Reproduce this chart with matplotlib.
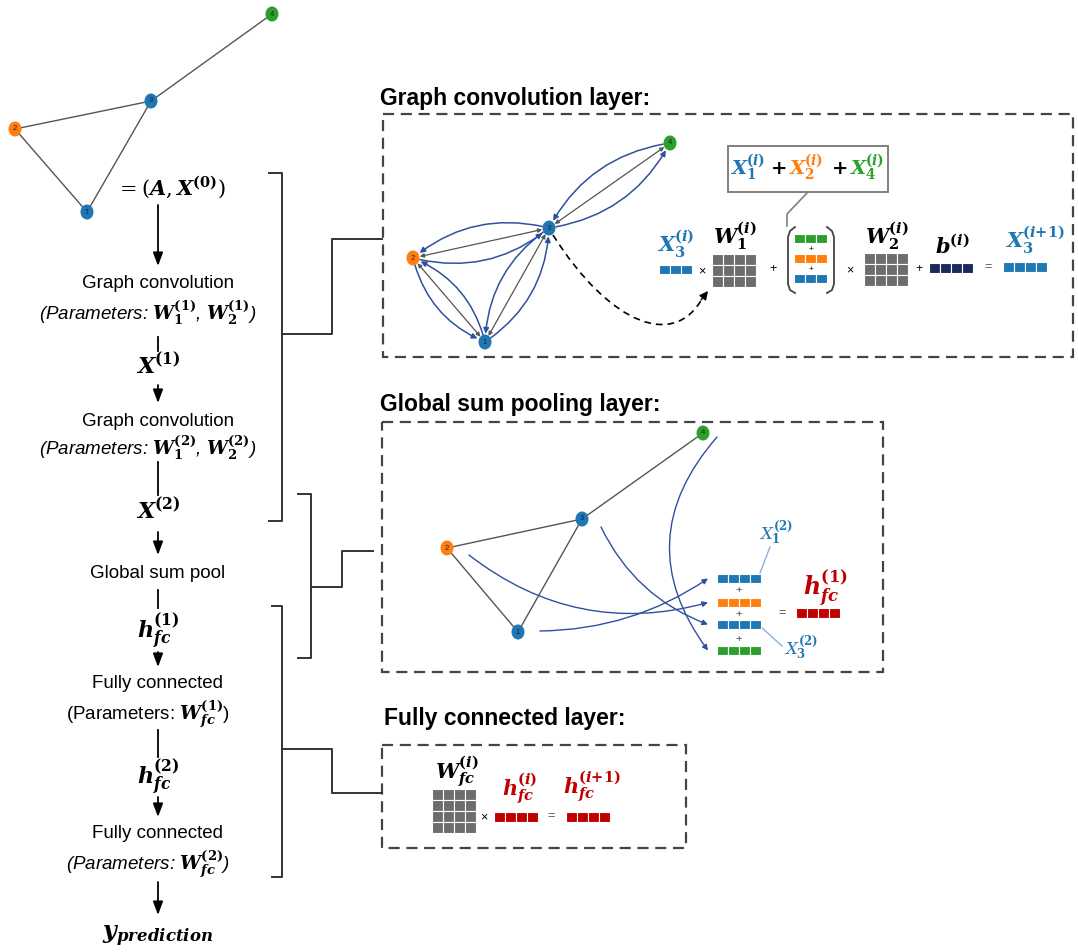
import matplotlib.pyplot as plt
from matplotlib.patches import Ellipse, Rectangle, FancyArrowPatch, PathPatch
from matplotlib.path import Path

plt.rcParams['font.family'] = ['Liberation Sans', 'DejaVu Sans']

# graph data
node_ids = ['1', '2', '3', '4']
node_colors = ['#1f77b4', '#ff7f0e', '#1f77b4', '#2ca02c']
edges = [(0, 1), (0, 2), (1, 2), (2, 3)]

# node layouts (pixel coords) for the three drawings of the graph
pos_input = [(87, 212), (15, 129), (151, 101), (272, 14)]
pos_conv = [(485, 342), (413, 258), (549, 228), (670, 143)]
pos_pool = [(518, 632), (447, 548), (582, 519), (703, 433)]

# left flow column
flow_x = 158
flow_text = [
    ('Graph convolution', 283, 'normal', 'text'),
    (r'(Parameters: $\mathbfit{W}_{\mathbf{1}}^{\mathbf{(1)}}$, $\mathbfit{W}_{\mathbf{2}}^{\mathbf{(1)}}$)', 313, 'italic', 'text'),
    (r'$\mathbfit{X}^{\mathbf{(1)}}$', 366, 'normal', 'math'),
    ('Graph convolution', 421, 'normal', 'text'),
    (r'(Parameters: $\mathbfit{W}_{\mathbf{1}}^{\mathbf{(2)}}$, $\mathbfit{W}_{\mathbf{2}}^{\mathbf{(2)}}$)', 448, 'italic', 'text'),
    (r'$\mathbfit{X}^{\mathbf{(2)}}$', 511, 'normal', 'math'),
    ('Global sum pool', 573, 'normal', 'text'),
    (r'$\mathbfit{h}_{\mathbfit{fc}}^{\mathbf{(1)}}$', 631, 'normal', 'math'),
    ('Fully connected', 683, 'normal', 'text'),
    (r'(Parameters: $\mathbfit{W}_{\mathbfit{fc}}^{\mathbf{(1)}}$)', 714, 'normal', 'text'),
    (r'$\mathbfit{h}_{\mathbfit{fc}}^{\mathbf{(2)}}$', 777, 'normal', 'math'),
    ('Fully connected', 833, 'normal', 'text'),
    (r'(Parameters: $\mathbfit{W}_{\mathbfit{fc}}^{\mathbf{(2)}}$)', 864, 'italic', 'text'),
]
flow_links = [(205, 266, True), (337, 351, False), (385, 403, True), (462, 495, False),
              (532, 555, True), (590, 608, False), (652, 667, True), (730, 757, False),
              (797, 817, True), (882, 915, True)]

# brackets: (x, top, bottom, tick_x, mid_y, elbow_x, target_y, target_x)
brackets = [(282, 173, 521, 269, 334, 332, 239, 382),
            (311, 494, 658, 298, 587, 342, 551, 373),
            (282, 606, 877, 272, 749, 332, 793, 382)]

# dashed layer boxes: (x0, y0, x1, y1) and titles
boxes = [(383, 114, 1073, 357), (382, 422, 883, 672), (382, 745, 686, 848)]
titles = ['Graph convolution layer:', 'Global sum pooling layer:', 'Fully connected layer:']
title_pos = [(380, 98), (380, 405), (384, 719)]

BLUE = '#1f77b4'
ORANGE = '#ff7f0e'
GREEN = '#2ca02c'
RED = '#c00000'
NAVY = '#1b2a5c'
GRAY = '#6d6d6d'
ARC = '#2f4f9f'

fig = plt.figure(figsize=(10.78, 9.52), dpi=100)
ax = fig.add_axes([0, 0, 1, 1])
ax.set_xlim(0, 1078)
ax.set_ylim(952, 0)
ax.axis('off')


def draw_nodes(pos):
    for (x, y), lab, c in zip(pos, node_ids, node_colors):
        ax.add_patch(Ellipse((x, y), 13, 15, fc=c, ec='none', zorder=5))
        ax.text(x, y, lab, fontsize=5.5, ha='center', va='center', zorder=6, color='#222222')


def draw_edges(pos, color='#555555'):
    for a, b in edges:
        ax.plot([pos[a][0], pos[b][0]], [pos[a][1], pos[b][1]], color=color, lw=1.0, zorder=2)


def cells(x0, y0, ncol, nrow, color, w=11, h=11):
    for i in range(ncol):
        for j in range(nrow):
            ax.add_patch(Rectangle((x0 + i * w, y0 + j * h), w, h, fc=color, ec='white', lw=0.8, zorder=3))


def mtext(x, y, s, size=15, color='black', **kw):
    ax.text(x, y, s, fontsize=size, color=color, ha='center', va='center',
            math_fontfamily='dejavuserif', **kw)


# ---- input graph
draw_edges(pos_input)
draw_nodes(pos_input)
mtext(171, 187, r'$=(\mathbfit{A},\mathbfit{X}^{\mathbf{(0)}})$', size=15)

# ---- flow column
for s, y, style, kind in flow_text:
    if kind == 'math':
        mtext(flow_x, y, s, size=16)
    else:
        ax.text(flow_x - (10 if 'Param' in s else 0), y, s, fontsize=13.5, fontstyle=style,
                ha='center', va='center', math_fontfamily='dejavuserif')
for y0, y1, head in flow_links:
    if head:
        ax.annotate('', xy=(flow_x, y1), xytext=(flow_x, y0),
                    arrowprops=dict(arrowstyle='-|>,head_length=0.8,head_width=0.3',
                                    color='black', lw=1.3, shrinkA=0, shrinkB=0))
    else:
        ax.plot([flow_x, flow_x], [y0, y1], color='black', lw=1.3)
mtext(flow_x, 936, r'$\mathbfit{y}_{\mathbfit{prediction}}$', size=17)

# ---- brackets
for x, top, bot, tx, my, ex, ty, tgx in brackets:
    ax.plot([tx, x, x, tx], [top, top, bot, bot], color='#333333', lw=1.4)
    ax.plot([x, ex, ex, tgx], [my, my, ty, ty], color='#333333', lw=1.4)

# ---- boxes and titles
for (x0, y0, x1, y1), t, (tx, ty) in zip(boxes, titles, title_pos):
    ax.add_patch(Rectangle((x0, y0), x1 - x0, y1 - y0, fill=False, ec='#444444',
                           lw=1.6, ls=(0, (5, 3)), zorder=1))
    ax.text(tx, ty, t, fontsize=16.5, fontweight='bold', ha='left', va='center')

# ---- graph convolution layer
for a, b in edges:
    ax.add_patch(FancyArrowPatch(pos_conv[a], pos_conv[b], arrowstyle='<|-|>',
                                 mutation_scale=6, color='#555555', lw=0.9,
                                 shrinkA=5, shrinkB=5, zorder=2))
    for u, v in ((a, b), (b, a)):
        ax.add_patch(FancyArrowPatch(pos_conv[u], pos_conv[v], arrowstyle='-|>',
                                     connectionstyle='arc3,rad=0.25', mutation_scale=8,
                                     color=ARC, lw=1.1, shrinkA=5, shrinkB=6, zorder=3))
draw_nodes(pos_conv)

# dashed link from node 3 to the update formula
p0 = (553, 235)
verts = [p0, (610, 325), (675, 350), (703, 297)]
ax.add_patch(PathPatch(Path(verts, [Path.MOVETO, Path.CURVE4, Path.CURVE4, Path.CURVE4]),
                       fill=False, ec='black', lw=1.2, ls=(0, (4, 3))))
ax.annotate('', xy=(708, 291), xytext=(701, 300),
            arrowprops=dict(arrowstyle='-|>,head_length=0.5,head_width=0.25', color='black',
                            lw=1.0, shrinkA=0, shrinkB=0))

# neighbour sum box
ax.add_patch(Rectangle((728, 146), 160, 46, fill=False, ec='#808080', lw=1.4))
mtext(748, 168, r'$\mathbfit{X}_{\mathbf{1}}^{\mathbf{(}\mathbfit{i}\mathbf{)}}$', size=14, color=BLUE)
mtext(778, 170, r'$\mathbf{+}$', size=14)
mtext(806, 168, r'$\mathbfit{X}_{\mathbf{2}}^{\mathbf{(}\mathbfit{i}\mathbf{)}}$', size=14, color=ORANGE)
mtext(839, 170, r'$\mathbf{+}$', size=14)
mtext(867, 168, r'$\mathbfit{X}_{\mathbf{4}}^{\mathbf{(}\mathbfit{i}\mathbf{)}}$', size=14, color=GREEN)
ax.plot([808, 787, 787], [192, 214, 226], color='#808080', lw=1.2)

# update formula
mtext(676, 244, r'$\mathbfit{X}_{\mathbf{3}}^{\mathbf{(}\mathbfit{i}\mathbf{)}}$', color=BLUE)
cells(659, 265, 3, 1, BLUE, h=9)
ax.text(702, 271, '×', fontsize=9, ha='center', va='center')
mtext(735, 236, r'$\mathbfit{W}_{\mathbf{1}}^{\mathbf{(}\mathbfit{i}\mathbf{)}}$')
cells(712, 254, 4, 3, GRAY)
ax.text(773, 269, '+', fontsize=9, ha='center', va='center')
ax.plot([795, 790, 788, 788, 790, 795], [227, 231, 237, 284, 290, 293], color='#444444', lw=1.3)
ax.plot([827, 832, 834, 834, 832, 827], [227, 231, 237, 284, 290, 293], color='#444444', lw=1.3)
cells(794, 234, 3, 1, GREEN, h=9)
ax.text(811, 249, '+', fontsize=6, ha='center', va='center')
cells(794, 254, 3, 1, ORANGE, h=9)
ax.text(811, 269, '+', fontsize=6, ha='center', va='center')
cells(794, 274, 3, 1, BLUE, h=9)
ax.text(850, 270, '×', fontsize=9, ha='center', va='center')
mtext(887, 236, r'$\mathbfit{W}_{\mathbf{2}}^{\mathbf{(}\mathbfit{i}\mathbf{)}}$')
cells(864, 253, 4, 3, GRAY)
ax.text(919, 269, '+', fontsize=9, ha='center', va='center')
mtext(952, 246, r'$\mathbfit{b}^{\mathbf{(}\mathbfit{i}\mathbf{)}}$')
cells(929, 263, 4, 1, NAVY, h=10)
ax.text(988, 267, '=', fontsize=9, ha='center', va='center', color='#555555')
mtext(1035, 240, r'$\mathbfit{X}_{\mathbf{3}}^{\mathbf{(}\mathbfit{i}\mathbf{+1)}}$', color=BLUE)
cells(1003, 262, 4, 1, BLUE, h=10)

# ---- global sum pooling layer
draw_edges(pos_pool)
draw_nodes(pos_pool)
pool_colors = [BLUE, ORANGE, BLUE, GREEN]
pool_rows = [574, 598, 620, 646]
pool_start = [(540, 631), (469, 555), (601, 527), (717, 437)]
pool_rad = [0.15, 0.25, 0.2, 0.4]
for c, y, st, r in zip(pool_colors, pool_rows, pool_start, pool_rad):
    cells(717, y, 4, 1, c, h=9)
    ax.add_patch(FancyArrowPatch(st, (708, y + 4.5), arrowstyle='-|>',
                                 connectionstyle='arc3,rad=%s' % r, mutation_scale=8,
                                 color=ARC, lw=1.0, shrinkA=0, shrinkB=0, zorder=3))
for y in (590, 614, 639):
    ax.text(739, y, '+', fontsize=8, ha='center', va='center', color='#444444')
ax.text(782, 613, '=', fontsize=9, ha='center', va='center', color='#555555')
cells(796, 608, 4, 1, RED, h=10)
mtext(825, 588, r'$\mathbfit{h}_{\mathbfit{fc}}^{\mathbf{(1)}}$', size=17, color=RED)
mtext(776, 533, r'$\mathit{X}_{\mathbf{1}}^{\mathbf{(2)}}$', size=12, color=BLUE)
ax.plot([760, 770], [573, 547], color='#8fb0d8', lw=1.0)
mtext(801, 648, r'$\mathit{X}_{\mathbf{3}}^{\mathbf{(2)}}$', size=12, color=BLUE)
ax.plot([761, 782], [627, 646], color='#8fb0d8', lw=1.0)

# ---- fully connected layer
mtext(457, 772, r'$\mathbfit{W}_{\mathbfit{fc}}^{\mathbf{(}\mathbfit{i}\mathbf{)}}$')
cells(432, 789, 4, 4, GRAY)
ax.text(484, 817, '×', fontsize=9, ha='center', va='center')
cells(494, 812, 4, 1, RED, h=10)
mtext(520, 789, r'$\mathbfit{h}_{\mathbfit{fc}}^{\mathbf{(}\mathbfit{i}\mathbf{)}}$', color=RED)
ax.text(551, 816, '=', fontsize=9, ha='center', va='center', color='#555555')
cells(566, 812, 4, 1, RED, h=10)
mtext(592, 787, r'$\mathbfit{h}_{\mathbfit{fc}}^{\mathbf{(}\mathbfit{i}\mathbf{+1)}}$', color=RED)

fig.savefig('out.png', dpi=100)
